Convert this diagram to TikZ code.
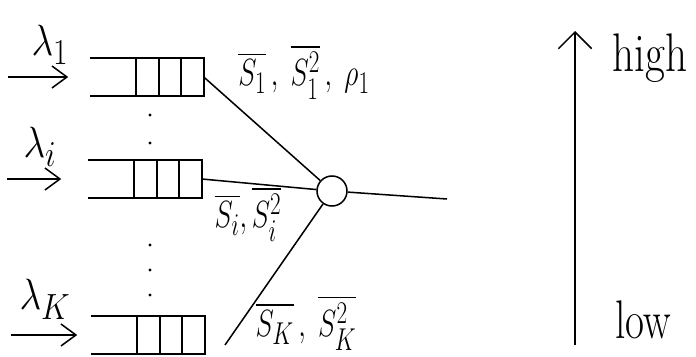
\documentclass[tikz,border=0pt]{standalone}
\usepackage{graphicx}
\usepackage{amsmath,amssymb}
\usetikzlibrary{positioning,arrows.meta,calc}
\newcommand{\hand}[1]{\scalebox{0.95}[1.3]{#1}}

\begin{document}
\begin{tikzpicture}[x=0.03cm,y=0.03cm,line width=1.3pt,
  queue/.style={minimum width=3.36cm,minimum height=1.1cm,inner sep=0pt},
  lab/.style={font=\Huge,inner sep=1pt},
  txt/.style={font=\fontsize{32}{36}\selectfont},
  inarrow/.style={-{Straight Barb[length=0.45cm,width=0.66cm]}}]
\useasboundingbox (0,0) rectangle (696,356);
% --- queues ---
\node[queue] (q1) at (147,279) {};
\node[queue] (qi) at (145,177) {};
\node[queue] (qk) at (148,21) {};
\foreach \q in {q1,qi,qk}{
  \draw (\q.north west) -- (\q.north east) -- (\q.south east) -- (\q.south west);
  \foreach \d in {23,45,68}
    \draw ($(\q.north east)+(-\d,0)$) -- ($(\q.south east)+(-\d,0)$);
}
% dots between queues
\foreach \y in {241,213,111,86,61}
  \fill (150,\y) circle (1.6);
% --- arrivals ---
\draw[inarrow] ($(q1.west)+(-82,0)$) -- ($(q1.west)+(-22,0)$);
\draw[inarrow] ($(qi.west)+(-81,0)$) -- ($(qi.west)+(-27,0)$);
\draw[inarrow] ($(qk.west)+(-80,0)$) -- ($(qk.west)+(-14,0)$);
\node[lab] (l1) at (50,311) {\scalebox{1.3}[1.5]{$\lambda_1$}};
\node[lab] (li) at (40,209) {\scalebox{1.3}[1.5]{$\lambda_i$}};
\node[lab] (lk) at (45,57) {\scalebox{1.3}[1.5]{$\lambda_K$}};
% --- server ---
\node[draw,circle,minimum size=0.9cm,inner sep=0pt] (srv) at (332,165) {};
\coordinate (out) at (447,157);
\coordinate (kout) at (225,11);
\draw (q1.east) -- (srv);
\draw (qi.east) -- (srv);
\draw (kout) -- (srv);
\draw (srv) -- (out);
\node[lab] (s1) at (304,284) {\hand{$\overline{S_1}\,,\;\overline{S_1^2}\,,\;\rho_1$}};
\node[lab] (si) at (248,142) {\hand{$\overline{S_i},\overline{S_i^2}$}};
\node[lab] (sk) at (306,33) {\hand{$\overline{S_K}\,,\;\overline{S_K^2}$}};
% --- priority scale ---
\coordinate (lo) at (575,11);
\coordinate (hi) at (575,325);
\draw[-{Straight Barb[length=0.5cm,width=1cm]}] (lo) -- (hi);
\node[txt] (high) at (650,298) {\scalebox{1.15}[1.45]{high}};
\node[txt] (low) at (643,36) {\scalebox{1.1}[1.45]{low}};
\end{tikzpicture}
\end{document}
